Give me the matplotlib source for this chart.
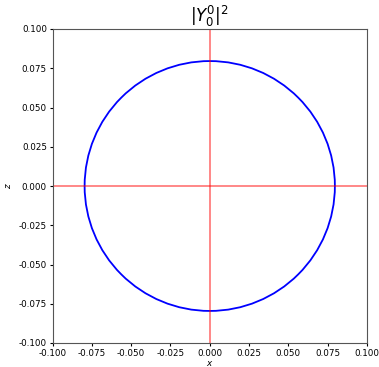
import numpy as np
import matplotlib.pyplot as plt
from matplotlib.patches import Circle

# data
radius = [1 / (4 * np.pi)]   # |Y_0^0|^2, constant in angle
lim = [-0.1, 0.1]
ticks = [-0.1, -0.075, -0.05, -0.025, 0.0, 0.025, 0.05, 0.075, 0.1]

fs = 6.3
fig = plt.figure(figsize=(3.79, 3.67), dpi=100)
ax = fig.add_axes([52.5 / 379, 24 / 367, 314.5 / 379, 314 / 367])

ax.add_patch(Circle((0, 0), radius[0], fill=False, color='b', lw=1.3))
ax.axvline(0, color='r', alpha=0.55, lw=1.2)
ax.axhline(0, color='r', alpha=0.55, lw=1.2)

ax.set_xlim(lim)
ax.set_ylim(lim)
ax.set_xticks(ticks)
ax.set_yticks(ticks)
ax.xaxis.set_major_formatter(plt.FormatStrFormatter('%.3f'))
ax.yaxis.set_major_formatter(plt.FormatStrFormatter('%.3f'))
ax.tick_params(labelsize=fs, length=2.5, width=0.8, pad=1.5)
for s in ax.spines.values():
    s.set_color('#555555')
    s.set_linewidth(0.8)

ax.set_xlabel('$x$', fontsize=fs, labelpad=1)
ax.set_ylabel('$z$', fontsize=fs, labelpad=4)
ax.set_title('$|Y_0^0|^2$', fontsize=12, pad=1)

fig.savefig('out.png', dpi=100)
